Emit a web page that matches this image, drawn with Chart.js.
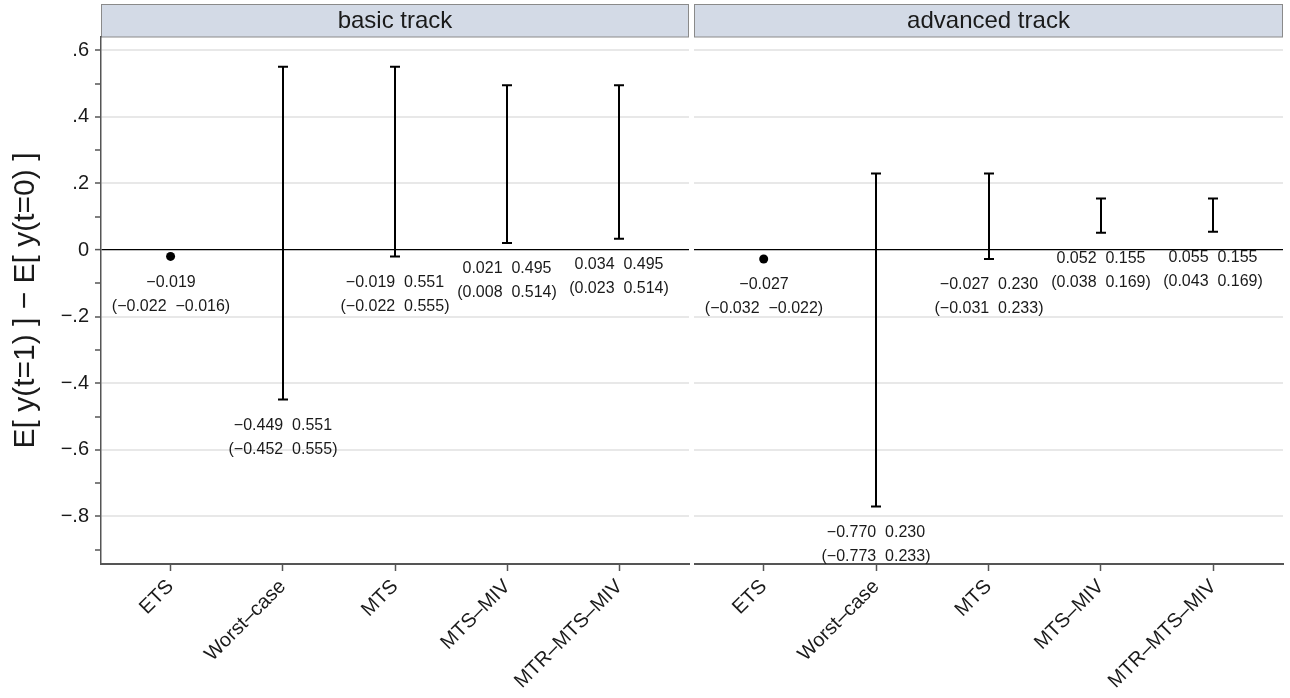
<!DOCTYPE html>
<html>
<head>
<meta charset="utf-8">
<script src="https://cdn.jsdelivr.net/npm/chart.js@4"></script>
<style>
  html, body { margin: 0; padding: 0; background: #fff; }
  #wrap { position: relative; width: 1290px; height: 698px; }
  canvas { position: absolute; top: 0; }
</style>
</head>
<body>
<div id="wrap">
  <canvas id="basic" width="690" height="698" style="left:0"></canvas>
  <canvas id="advanced" width="596" height="698" style="left:694px"></canvas>
</div>
<script>
// categories (x) and y ticks
const categories = ['ETS', 'Worst–case', 'MTS', 'MTS–MIV', 'MTR–MTS–MIV'];
const yMajorTicks = [-0.8, -0.6, -0.4, -0.2, 0, 0.2, 0.4, 0.6];
const yTickLabels = ['−.8', '−.6', '−.4', '−.2', '0', '.2', '.4', '.6'];
const yMinorTicks = [-0.9, -0.7, -0.5, -0.3, -0.1, 0.1, 0.3, 0.5];

// basic track: bounds and confidence interval
const basicLower   = [-0.019, -0.449, -0.019, 0.021, 0.034];
const basicUpper   = [-0.019,  0.551,  0.551, 0.495, 0.495];
const basicCiLower = [-0.022, -0.452, -0.022, 0.008, 0.023];
const basicCiUpper = [-0.016,  0.555,  0.555, 0.514, 0.514];

// advanced track
const advLower   = [-0.027, -0.770, -0.027, 0.052, 0.055];
const advUpper   = [-0.027,  0.230,  0.230, 0.155, 0.155];
const advCiLower = [-0.032, -0.773, -0.031, 0.038, 0.043];
const advCiUpper = [-0.022,  0.233,  0.233, 0.169, 0.169];

const FONT = '"Liberation Sans", Arial, Helvetica, sans-serif';
Chart.defaults.font.family = FONT;
Chart.defaults.color = '#1a1a1a';

const fmt = v => v.toFixed(3).replace('-', '−');
const isMajor = v => yMajorTicks.some(t => Math.abs(t - v) < 1e-9);

const stripPlugin = {
  id: 'strip',
  beforeDraw(chart, args, opts) {
    const { ctx, chartArea } = chart;
    ctx.save();
    ctx.fillStyle = '#d3dae6';
    ctx.strokeStyle = '#8a8a8a';
    ctx.lineWidth = 1;
    const x0 = chartArea.left + 0.5, w = chartArea.right - chartArea.left - 1;
    ctx.fillRect(x0, 4.5, w, 32.5);
    ctx.strokeRect(x0, 4.5, w, 32.5);
    ctx.fillStyle = '#1a1a1a';
    ctx.font = '24px ' + FONT;
    ctx.textAlign = 'center';
    ctx.textBaseline = 'middle';
    ctx.fillText(opts.text, (chartArea.left + chartArea.right) / 2, 21);
    ctx.restore();
  }
};

const rangePlugin = {
  id: 'ranges',
  afterDatasetsDraw(chart, args, opts) {
    const { ctx, scales: { x, y } } = chart;
    ctx.save();
    ctx.strokeStyle = '#000';
    ctx.fillStyle = '#1a1a1a';
    ctx.lineWidth = 2;
    opts.lower.forEach((lo, i) => {
      const hi = opts.upper[i];
      const px = Math.round(x.getPixelForValue(i));
      const pLo = y.getPixelForValue(lo), pHi = y.getPixelForValue(hi);
      if (lo !== hi) {
        ctx.beginPath();
        ctx.moveTo(px, pLo); ctx.lineTo(px, pHi);
        ctx.moveTo(px - 5, pLo); ctx.lineTo(px + 5, pLo);
        ctx.moveTo(px - 5, pHi); ctx.lineTo(px + 5, pHi);
        ctx.stroke();
      }
      ctx.font = '16px ' + FONT;
      ctx.textAlign = 'center';
      ctx.textBaseline = 'middle';
      const line1 = lo === hi ? fmt(lo) : fmt(lo) + '  ' + fmt(hi);
      const line2 = '(' + fmt(opts.ciLower[i]) + '  ' + fmt(opts.ciUpper[i]) + ')';
      ctx.fillText(line1, px, pLo + 26);
      ctx.fillText(line2, px, pLo + 50);
    });
    ctx.restore();
  }
};

const yTitlePlugin = {
  id: 'ytitle',
  afterDraw(chart, args, opts) {
    if (!opts.text) return;
    const { ctx, chartArea } = chart;
    ctx.save();
    ctx.translate(26, (chartArea.top + chartArea.bottom) / 2);
    ctx.rotate(-Math.PI / 2);
    ctx.font = '30px ' + FONT;
    ctx.fillStyle = '#1a1a1a';
    ctx.textAlign = 'center';
    ctx.textBaseline = 'middle';
    ctx.fillText(opts.text, 0, 0);
    ctx.restore();
  }
};

function makePanel(id, title, lower, upper, ciLower, ciUpper, first) {
  const points = lower.map((v, i) => ({ x: i, y: v })).filter((p, i) => lower[i] === upper[i]);
  return new Chart(document.getElementById(id), {
    type: 'scatter',
    data: {
      datasets: [{
        data: points,
        pointRadius: 4.5,
        pointBackgroundColor: '#000',
        pointBorderWidth: 0
      }]
    },
    options: {
      responsive: false,
      animation: false,
      layout: { autoPadding: false, padding: { top: 37, right: first ? 1 : 7, left: 0, bottom: 0 } },
      plugins: {
        legend: { display: false },
        tooltip: { enabled: false },
        strip: { text: title },
        ranges: { lower, upper, ciLower, ciUpper },
        ytitle: { text: first ? 'E[ y(t=1) ] − E[ y(t=0) ]' : '' }
      },
      scales: {
        x: {
          type: 'linear',
          min: -0.62,
          max: 4.62,
          afterBuildTicks: s => { s.ticks = categories.map((c, i) => ({ value: i })); },
          afterFit: s => { s.height = 134; },
          ticks: {
            autoSkip: false,
            minRotation: 45,
            maxRotation: 45,
            padding: 4,
            font: { size: 20 },
            callback: v => categories[v]
          },
          grid: { drawOnChartArea: false, drawTicks: true, tickLength: 7, tickColor: '#555', tickWidth: 1.5 },
          border: { color: '#555', width: 2 }
        },
        y: {
          min: -0.943,
          max: 0.64,
          afterBuildTicks: s => {
            s.ticks = yMinorTicks.concat(yMajorTicks).sort((a, b) => a - b).map(v => ({ value: v }));
          },
          afterFit: s => { s.width = first ? 101 : 0; },
          ticks: {
            display: first,
            padding: 6,
            font: { size: 20 },
            callback: v => {
              const k = yMajorTicks.findIndex(t => Math.abs(t - v) < 1e-9);
              return k >= 0 ? yTickLabels[k] : '';
            }
          },
          grid: {
            color: c => Math.abs(c.tick.value) < 1e-9 ? '#000' : (isMajor(c.tick.value) ? '#e8e8e8' : 'rgba(0,0,0,0)'),
            lineWidth: c => Math.abs(c.tick.value) < 1e-9 ? 1.2 : 2,
            drawTicks: first,
            tickLength: 6,
            tickColor: '#555',
            tickWidth: 1.5
          },
          border: { display: first, color: '#555', width: 1.5 }
        }
      }
    },
    plugins: [stripPlugin, rangePlugin, yTitlePlugin]
  });
}

makePanel('basic', 'basic track', basicLower, basicUpper, basicCiLower, basicCiUpper, true);
makePanel('advanced', 'advanced track', advLower, advUpper, advCiLower, advCiUpper, false);
</script>
</body>
</html>
